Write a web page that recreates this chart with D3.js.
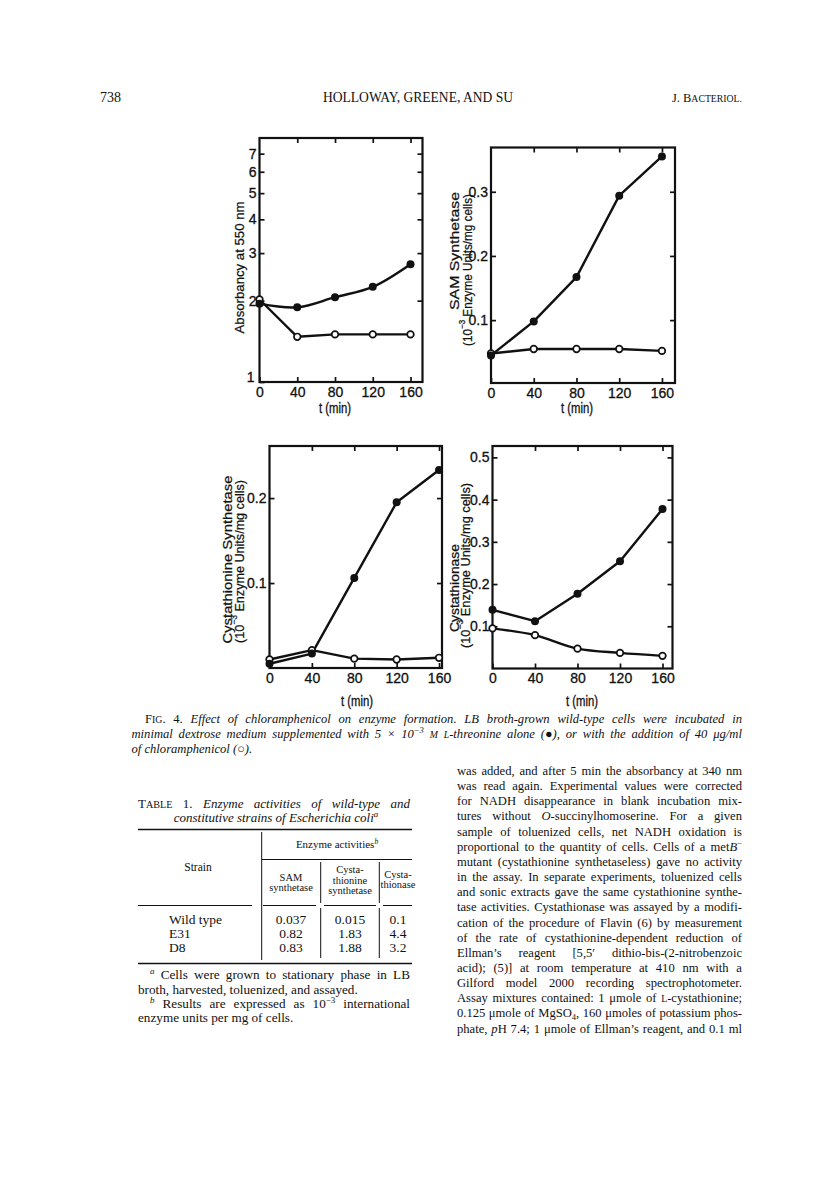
<!DOCTYPE html>
<html><head><meta charset="utf-8">
<script src="https://cdn.jsdelivr.net/npm/d3@7"></script>
<style>body{margin:0;background:#fff}svg{display:block}</style>
</head><body><svg id="page" width="816" height="1199"></svg>
<script>
// ---------------- data ----------------
const timePoints = [0, 40, 80, 120, 160];
const timeTicks = [0, 40, 80, 120, 160];
const absorbancyThreonine = [1.95, 1.89, 2.06, 2.25, 2.73];
const absorbancyChloramphenicol = [2.02, 1.47, 1.50, 1.50, 1.50];
const samThreonine = [0.045, 0.098, 0.167, 0.294, 0.355];
const samChloramphenicol = [0.048, 0.055, 0.055, 0.055, 0.052];
const cysSynThreonine = [0.005, 0.017, 0.106, 0.195, 0.233];
const cysSynChloramphenicol = [0.010, 0.021, 0.011, 0.010, 0.012];
const cysaseThreonine = [0.139, 0.112, 0.177, 0.254, 0.378];
const cysaseChloramphenicol = [0.095, 0.079, 0.047, 0.037, 0.030];
const absorbancyTicks = [1, 2, 3, 4, 5, 6, 7];
const samTicks = [0.1, 0.2, 0.3];
const cysSynTicks = [0.1, 0.2];
const cysaseTicks = [0.1, 0.2, 0.3, 0.4, 0.5];
const tableStrains = ["Wild type", "E31", "D8"];
const tableSAM = ["0.037", "0.82", "0.83"];
const tableCysSyn = ["0.015", "1.83", "1.88"];
const tableCysase = ["0.1", "4.4", "3.2"];

// ---------------- setup ----------------
const SERIF = '"Liberation Serif","Times New Roman",serif';
const SANS = '"Liberation Sans",Arial,sans-serif';
const INK = '#111';
const svg = d3.select('#page');
svg.append('rect').attr('width', 816).attr('height', 1199).attr('fill', '#fff');

function rich(parent, x, y, parts, o) {
  const size = o.size;
  const t = parent.append('text').attr('x', x).attr('y', y)
    .attr('font-family', o.family || SERIF).attr('font-size', size).attr('fill', INK);
  if (o.anchor) t.attr('text-anchor', o.anchor);
  if (o.italic) t.attr('font-style', 'italic');
  if (o.weight) t.attr('font-weight', o.weight);
  if (o.stroke) t.attr('stroke', INK).attr('stroke-width', o.stroke);
  let shift = 0;
  parts.forEach(p => {
    if (typeof p === 'string') p = {t: p};
    const s = t.append('tspan').text(p.t);
    let target = 0, fs = null;
    if (p.sup) { target = -size * 0.38; fs = size * 0.68; }
    if (p.sub) { target = size * 0.22; fs = size * 0.68; }
    if (p.sc) { fs = size * 0.78; }
    if (fs) s.attr('font-size', fs);
    if (target !== shift) { s.attr('dy', (target - shift).toFixed(2)); shift = target; }
    if (p.i) s.attr('font-style', 'italic');
    if (p.r) s.attr('font-style', 'normal');
  });
  if (o.justify) {
    const w = t.node().getComputedTextLength();
    const n = (t.text().match(/ /g) || []).length;
    if (n) t.attr('word-spacing', ((o.justify - w) / n).toFixed(2));
  }
  if (o.len) t.attr('textLength', o.len).attr('lengthAdjust', 'spacingAndGlyphs');
  return t;
}

// ---------------- page header ----------------
rich(svg, 100, 102, ['738'], {size: 14});
rich(svg, 418, 102, ['HOLLOWAY, GREENE, AND SU'], {size: 14, anchor: 'middle', len: 190});
rich(svg, 742, 102, ['J. B', {t: 'ACTERIOL.', sc: true}], {size: 12.5, anchor: 'end'});

// ---------------- panels ----------------
const panels = [
  {left: 259.5, right: 422.5, top: 138, bottom: 382, xMax: 172.7, log: true, yDomain: [1, 8],
   yTicks: absorbancyTicks, fmt: d3.format('d'), filled: absorbancyThreonine, open: absorbancyChloramphenicol,
   filledCurve: d3.curveCatmullRom.alpha(0.5), openCurve: d3.curveLinear,
   titles: [{parts: ['Absorbancy at 550 nm'], cx: 238.5, cy: 267.5, len: 132}],
   tlabel: {x: 335, y: 413}},
  {left: 491, right: 675, top: 147.5, bottom: 383, xMax: 172.2, log: false, yDomain: [0.002, 0.369],
   yTicks: samTicks, fmt: d3.format('.1f'), filled: samThreonine, open: samChloramphenicol,
   filledCurve: d3.curveLinear, openCurve: d3.curveLinear,
   titles: [{parts: ['SAM Synthetase'], cx: 453.5, cy: 251, len: 118},
            {parts: ['(10', {t: '−3', sup: true}, ' Enzyme Units/mg cells)'], cx: 466.5, cy: 270, len: 152}],
   tlabel: {x: 577, y: 413}},
  {left: 269.5, right: 442, top: 446, bottom: 668, xMax: 162.8, log: false, yDomain: [0, 0.2613],
   yTicks: cysSynTicks, fmt: d3.format('.1f'), filled: cysSynThreonine, open: cysSynChloramphenicol,
   filledCurve: d3.curveLinear, openCurve: d3.curveLinear,
   titles: [{parts: ['Cystathionine Synthetase'], cx: 226.5, cy: 559.5, len: 168},
            {parts: ['(10', {t: '−3', sup: true}, ' Enzyme Units/mg cells)'], cx: 239, cy: 561.5, len: 163}],
   tlabel: {x: 357, y: 706}},
  {left: 492.5, right: 672.5, top: 446, bottom: 668.5, xMax: 169.4, log: false, yDomain: [0, 0.527],
   yTicks: cysaseTicks, fmt: d3.format('.1f'), filled: cysaseThreonine, open: cysaseChloramphenicol,
   filledCurve: d3.curveLinear, openCurve: d3.curveMonotoneX,
   titles: [{parts: ['Cystathionase'], cx: 453.5, cy: 588, len: 88},
            {parts: ['(10', {t: '−3', sup: true}, ' Enzyme Units/mg cells)'], cx: 464.5, cy: 565.5, len: 165}],
   tlabel: {x: 582, y: 706}}
];

panels.forEach((p, pi) => {
  const x = d3.scaleLinear().domain([0, p.xMax]).range([p.left, p.right]);
  const y = (p.log ? d3.scaleLog() : d3.scaleLinear()).domain(p.yDomain).range([p.bottom, p.top]);
  const g = svg.append('g');

  const styleAxis = sel => {
    sel.attr('font-family', SANS).attr('font-size', 14);
    sel.select('.domain').remove();
    sel.selectAll('.tick line').attr('stroke', INK).attr('stroke-width', 1.7);
    sel.selectAll('.tick text').attr('fill', INK).attr('stroke', INK).attr('stroke-width', 0.3);
  };
  g.append('g').attr('transform', `translate(0,${p.bottom})`)
    .call(d3.axisBottom(x).tickValues(timeTicks).tickSize(-5).tickPadding(5).tickFormat(d3.format('d')))
    .call(styleAxis);
  g.append('g').attr('transform', `translate(0,${p.top})`)
    .call(d3.axisTop(x).tickValues(timeTicks.filter(d => d > 0)).tickSize(-5).tickFormat(''))
    .call(styleAxis);
  const la = g.append('g').attr('transform', `translate(${p.left},0)`)
    .call(d3.axisLeft(y).tickValues(p.yTicks).tickSize(-5).tickPadding(3).tickFormat(p.fmt))
    .call(styleAxis);
  if (p.log) {
    la.selectAll('.tick').filter(d => d === 1).select('text').attr('dy', '-0.05em').attr('x', -5);
  }
  g.append('g').attr('transform', `translate(${p.right},0)`)
    .call(d3.axisRight(y).tickValues(p.yTicks.filter(d => !(p.log && d === 1))).tickSize(-5).tickFormat(''))
    .call(styleAxis);

  g.append('rect').attr('x', p.left).attr('y', p.top)
    .attr('width', p.right - p.left).attr('height', p.bottom - p.top)
    .attr('fill', 'none').attr('stroke', INK).attr('stroke-width', 2.2);

  const ptsO = timePoints.map((t, i) => [t, p.open[i]]);
  const ptsF = timePoints.map((t, i) => [t, p.filled[i]]);
  g.append('path').attr('d', d3.line().x(d => x(d[0])).y(d => y(d[1])).curve(p.openCurve)(ptsO))
    .attr('fill', 'none').attr('stroke', INK).attr('stroke-width', 2.4).attr('stroke-linejoin', 'round');
  g.append('path').attr('d', d3.line().x(d => x(d[0])).y(d => y(d[1])).curve(p.filledCurve)(ptsF))
    .attr('fill', 'none').attr('stroke', INK).attr('stroke-width', 2.4).attr('stroke-linejoin', 'round');
  g.selectAll('.o').data(ptsO).join('circle')
    .attr('cx', d => x(d[0])).attr('cy', d => y(d[1])).attr('r', 3.3)
    .attr('fill', '#fff').attr('stroke', INK).attr('stroke-width', 1.7);
  g.selectAll('.f').data(ptsF).join('circle')
    .attr('cx', d => x(d[0])).attr('cy', d => y(d[1])).attr('r', 4).attr('fill', INK);

  p.titles.forEach(tt => {
    const tg = g.append('g').attr('transform', `translate(${tt.cx},${tt.cy}) rotate(-90)`);
    rich(tg, 0, 0, tt.parts, {size: 13, family: SANS, anchor: 'middle', len: tt.len, stroke: 0.25})
      .attr('dominant-baseline', 'central');
  });
  rich(g, p.tlabel.x, p.tlabel.y, ['t (min)'], {size: 15.5, family: '"Liberation Sans Narrow","Liberation Sans",sans-serif', anchor: 'middle', len: 32, stroke: 0.35});
});

// ---------------- caption ----------------
rich(svg, 145, 723, ['F', {t: 'IG', sc: true}, '. 4. ',
  {t: 'Effect of chloramphenicol on enzyme formation. LB broth-grown wild-type cells were incubated in', i: true}],
  {size: 12.6, justify: 597});
rich(svg, 131.5, 738, [
  'minimal dextrose medium supplemented with 5 × 10', {t: '−3', sup: true}, ' ', {t: 'M', sc: true}, ' ',
  {t: 'L', sc: true}, '-threonine alone (', {t: '●', r: true}, '), or with the addition of 40 μg/ml'],
  {size: 12.6, italic: true, justify: 610.5});
rich(svg, 131.5, 753, ['of chloramphenicol (', {t: '○', r: true}, ').'], {size: 12.6, italic: true});

// ---------------- table ----------------
rich(svg, 138, 808, ['T', {t: 'ABLE', sc: true}, ' 1. ', {t: 'Enzyme activities of wild-type and', i: true}],
  {size: 13, justify: 272});
rich(svg, 276, 822, ['constitutive strains of ', 'Escherichia coli', {t: 'a', sup: true}],
  {size: 13, italic: true, anchor: 'middle'});

const tg = svg.append('g').attr('stroke', INK);
const hl = (x1, x2, yy, w) => tg.append('line').attr('x1', x1).attr('x2', x2).attr('y1', yy).attr('y2', yy).attr('stroke-width', w);
const vl = (xx, y1, y2) => tg.append('line').attr('x1', xx).attr('x2', xx).attr('y1', y1).attr('y2', y2).attr('stroke-width', 1);
hl(138, 412, 829.5, 1.6);
hl(262, 412, 859.5, 1);
hl(138, 252, 905.5, 1); hl(263, 316, 905.5, 1); hl(324, 376, 905.5, 1); hl(383, 412, 905.5, 1);
hl(138, 412, 963.5, 1.6);
vl(261.7, 832, 960);
vl(320.7, 862, 903); vl(320.7, 908, 958);
vl(379.3, 862, 903); vl(379.3, 908, 958);

rich(svg, 337, 848, ['Enzyme activities', {t: 'b', sup: true, i: true}], {size: 11, anchor: 'middle'});
rich(svg, 198, 871, ['Strain'], {size: 11.5, anchor: 'middle'});
rich(svg, 291, 881, ['SAM'], {size: 10.5, anchor: 'middle'});
rich(svg, 291, 891, ['synthetase'], {size: 10.5, anchor: 'middle'});
rich(svg, 350, 873, ['Cysta-'], {size: 10.5, anchor: 'middle'});
rich(svg, 350, 883.5, ['thionine'], {size: 10.5, anchor: 'middle'});
rich(svg, 350, 894, ['synthetase'], {size: 10.5, anchor: 'middle'});
rich(svg, 398, 878, ['Cysta-'], {size: 10.5, anchor: 'middle'});
rich(svg, 398, 888, ['thionase'], {size: 10.5, anchor: 'middle'});

const rowY = [924, 938, 951.5];
tableStrains.forEach((s, i) => {
  rich(svg, 169, rowY[i], [s], {size: 13.5});
  rich(svg, 291, rowY[i], [tableSAM[i]], {size: 13.5, anchor: 'middle'});
  rich(svg, 350, rowY[i], [tableCysSyn[i]], {size: 13.5, anchor: 'middle'});
  rich(svg, 398, rowY[i], [tableCysase[i]], {size: 13.5, anchor: 'middle'});
});

rich(svg, 150, 979, [{t: 'a', sup: true, i: true}, ' Cells were grown to stationary phase in LB'], {size: 13.2, justify: 260});
rich(svg, 138, 994, ['broth, harvested, toluenized, and assayed.'], {size: 13.2});
rich(svg, 150, 1008, [{t: 'b', sup: true, i: true}, ' Results are expressed as 10', {t: '−3', sup: true}, ' international'], {size: 13.2, justify: 260});
rich(svg, 138, 1022, ['enzyme units per mg of cells.'], {size: 13.2});

// ---------------- right column text ----------------
const colLines = [
  ['was added, and after 5 min the absorbancy at 340 nm'],
  ['was read again. Experimental values were corrected'],
  ['for NADH disappearance in blank incubation mix-'],
  ['tures without ', {t: 'O', i: true}, '-succinylhomoserine. For a given'],
  ['sample of toluenized cells, net NADH oxidation is'],
  ['proportional to the quantity of cells. Cells of a met', {t: 'B', i: true}, {t: '−', sup: true}],
  ['mutant (cystathionine synthetaseless) gave no activity'],
  ['in the assay. In separate experiments, toluenized cells'],
  ['and sonic extracts gave the same cystathionine synthe-'],
  ['tase activities. Cystathionase was assayed by a modifi-'],
  ['cation of the procedure of Flavin (6) by measurement'],
  ['of the rate of cystathionine-dependent reduction of'],
  ['Ellman\u2019s reagent [5,5\u2032 dithio-bis-(2-nitrobenzoic'],
  ['acid); (5)] at room temperature at 410 nm with a'],
  ['Gilford model 2000 recording spectrophotometer.'],
  ['Assay mixtures contained: 1 μmole of ', {t: 'L', sc: true}, '-cystathionine;'],
  ['0.125 μmole of MgSO', {t: '4', sub: true}, ', 160 μmoles of potassium phos-'],
  ['phate, ', {t: 'p', i: true}, 'H 7.4; 1 μmole of Ellman\u2019s reagent, and 0.1 ml']
];
colLines.forEach((parts, i) => {
  rich(svg, 457, 775 + i * 15.15, parts, {size: 12.6, justify: 285});
});
</script></body></html>
